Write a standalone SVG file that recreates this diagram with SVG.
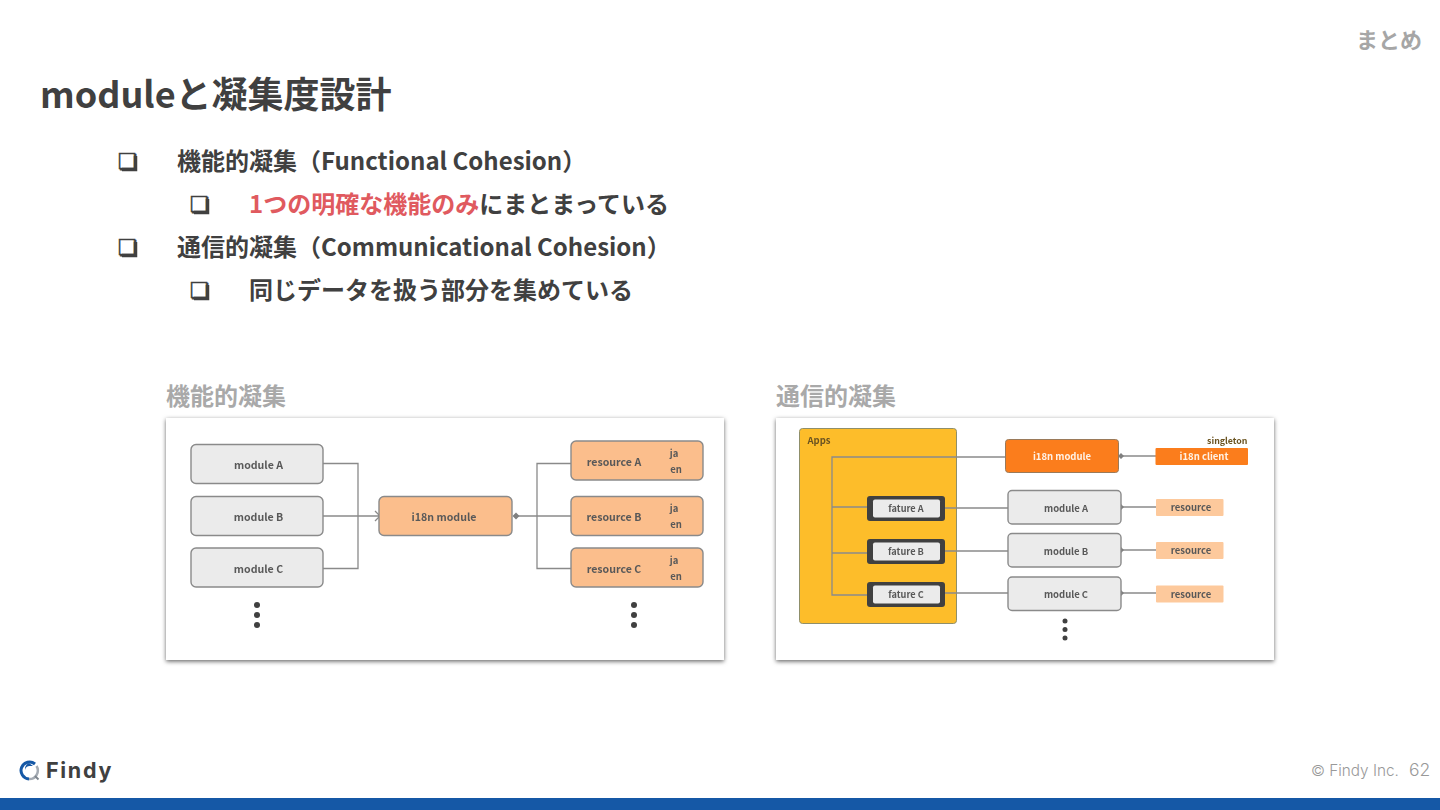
<svg xmlns="http://www.w3.org/2000/svg" width="1440" height="810" viewBox="0 0 1440 810">
<defs>
<filter id="soft" x="-5%" y="-5%" width="110%" height="110%"><feGaussianBlur stdDeviation="0.5"/></filter>
<filter id="shadow" x="-5%" y="-5%" width="110%" height="110%"><feDropShadow dx="0" dy="1.500" stdDeviation="2.200" flood-color="#000" flood-opacity="0.6"/></filter>
<path id="bs" d="M135.500 156V169.500H122" fill="none" stroke="#404040" stroke-width="3.500"/>
</defs>
<style>
text{font-family:"Noto Sans CJK JP","Noto Sans",sans-serif;font-weight:700;fill:#404040}
.bl{font-size:24px}
.gl{font-family:"DejaVu Sans",sans-serif;font-size:22px;font-weight:700;stroke:#404040;stroke-width:0.6px}
.cap{font-size:24px;fill:#a9a9a9}
.n{font-size:10.600px;text-anchor:middle;fill:#595959}
.g{fill:#ebebeb;stroke:#8a8a8a;stroke-width:1.400}
.o{fill:#fbbe8c;stroke:#8a8a8a;stroke-width:1.400}
.c{fill:none;stroke:#8a8a8a;stroke-width:1.300}
.d{fill:#404040}
.dm{fill:#808080}
.r{fill:#fdc99c}
.rt{font-size:9.500px;text-anchor:middle;fill:#595959}
.ft{font-size:9.200px;text-anchor:middle;fill:#595959}
</style>
<rect width="1440" height="810" fill="#fff"/>
<text x="1356" y="48" style="font-size:22px;fill:#a6a6a6">まとめ</text>
<text x="40" y="108" style="font-size:36px">moduleと凝集度設計</text>

<g id="bullets">
<text class="gl" x="118" y="169">❏</text><use href="#bs"/>
<text class="bl" x="177" y="170">機能的凝集（Functional Cohesion）</text>
<text class="gl" x="190" y="212">❏</text><use href="#bs" x="72" y="43"/>
<text class="bl" x="249" y="213"><tspan style="fill:#e05a5f">1つの明確な機能のみ</tspan>にまとまっている</text>
<text class="gl" x="118" y="255">❏</text><use href="#bs" y="86"/>
<text class="bl" x="177" y="256">通信的凝集（Communicational Cohesion）</text>
<text class="gl" x="190" y="298">❏</text><use href="#bs" x="72" y="129"/>
<text class="bl" x="249" y="299">同じデータを扱う部分を集めている</text>
</g>

<text class="cap" x="166" y="405">機能的凝集</text>
<text class="cap" x="776" y="405">通信的凝集</text>

<rect x="166" y="418" width="558" height="242" fill="#fff" filter="url(#shadow)"/>
<rect x="776" y="418" width="498" height="242" fill="#fff" filter="url(#shadow)"/>

<g filter="url(#soft)">
<g id="connectors-left">
<path class="c" d="M323 463.500H358V568.500H323M323 516H379M375 511l5 5-5 5"/>
<path class="c" d="M516 516H571M571 463.500H537V568.500H571"/>
<path class="dm" d="M516 512.500l3.500 3.500-3.500 3.500-3.500-3.500z"/>
</g>
<g id="moduleA"><rect class="g" x="191" y="444.500" width="132" height="39" rx="5"/><text class="n" x="258.500" y="468.500">module A</text></g>
<g id="moduleB"><rect class="g" x="191" y="496.500" width="132" height="39" rx="5"/><text class="n" x="258.500" y="520.500">module B</text></g>
<g id="moduleC"><rect class="g" x="191" y="548" width="132" height="39" rx="5"/><text class="n" x="258.500" y="572.500">module C</text></g>
<g id="i18n"><rect class="o" x="379" y="496.500" width="133" height="39" rx="5"/><text class="n" x="444" y="520.500">i18n module</text></g>
<g id="resourceA"><rect class="o" x="571" y="441" width="132" height="39" rx="5"/><text class="n" x="614" y="466">resource A</text><text class="rt" x="674" y="457">ja</text><text class="rt" x="676" y="473">en</text></g>
<g id="resourceB"><rect class="o" x="571" y="496.500" width="132" height="39" rx="5"/><text class="n" x="614" y="521">resource B</text><text class="rt" x="674" y="512">ja</text><text class="rt" x="676" y="528">en</text></g>
<g id="resourceC"><rect class="o" x="571" y="548" width="132" height="39" rx="5"/><text class="n" x="614" y="573">resource C</text><text class="rt" x="674" y="564">ja</text><text class="rt" x="676" y="580">en</text></g>
<g id="dotsL"><circle class="d" cx="257" cy="605" r="3"/><circle class="d" cx="257" cy="615" r="3"/><circle class="d" cx="257" cy="625" r="3"/></g>
<g id="dotsR"><circle class="d" cx="634" cy="605" r="3"/><circle class="d" cx="634" cy="615" r="3"/><circle class="d" cx="634" cy="625" r="3"/></g>

<g id="apps"><rect x="799.500" y="428.500" width="157" height="195" rx="3" fill="#fdbd2c" stroke="#8f8f6a" stroke-width="1"/><text x="807.500" y="444" style="font-size:9.500px;fill:#6b5320">Apps</text></g>
<g id="connectors-right">
<path class="c" d="M1006 457H832V595H867M832 507H867M832 553H867"/>
<path class="c" d="M945 508H1008M945 551H1008M945 593H1008"/>
<path class="c" d="M1121 456H1156M1121 507H1156M1121 550H1156M1121 593H1156"/>
<path class="dm" d="M1121 453l3 3-3 3-3-3zM1121 504l3 3-3 3-3-3zM1121 547l3 3-3 3-3-3zM1121 590l3 3-3 3-3-3z"/>
</g>
<g id="fatureA"><rect x="867" y="496" width="78" height="25" rx="3" fill="#404040"/><rect x="873" y="499.500" width="67" height="18" rx="2" fill="#ebebeb"/><text class="ft" x="906" y="512">fature A</text></g>
<g id="fatureB"><rect x="867" y="539" width="78" height="25" rx="3" fill="#404040"/><rect x="873" y="542.500" width="67" height="18" rx="2" fill="#ebebeb"/><text class="ft" x="906" y="555">fature B</text></g>
<g id="fatureC"><rect x="867" y="582" width="78" height="25" rx="3" fill="#404040"/><rect x="873" y="585.500" width="67" height="18" rx="2" fill="#ebebeb"/><text class="ft" x="906" y="598">fature C</text></g>
<g id="i18nR"><rect x="1005.500" y="439.500" width="113" height="33" rx="3" fill="#fb7d1d" stroke="#9a7a5a" stroke-width="1"/><text class="rt" x="1062" y="460" style="fill:#fff2e6">i18n module</text></g>
<g id="client"><rect x="1155.500" y="448" width="92.500" height="17" rx="1" fill="#fb7d1d"/><text class="rt" x="1204" y="460" style="fill:#fff2e6">i18n client</text></g>
<text x="1247.500" y="444" style="font-size:8.800px;text-anchor:end;fill:#6b5320">singleton</text>
<g id="moduleRA"><rect class="g" x="1008" y="490.500" width="113" height="33.500" rx="4"/><text class="rt" x="1066" y="511.500">module A</text></g>
<g id="moduleRB"><rect class="g" x="1008" y="533.500" width="113" height="33.500" rx="4"/><text class="rt" x="1066" y="554.500">module B</text></g>
<g id="moduleRC"><rect class="g" x="1008" y="577" width="113" height="33.500" rx="4"/><text class="rt" x="1066" y="598">module C</text></g>
<g id="resR1"><rect class="r" x="1156" y="499" width="67.500" height="17" rx="1"/><text class="rt" x="1191" y="510.500">resource</text></g>
<g id="resR2"><rect class="r" x="1156" y="542" width="67.500" height="17" rx="1"/><text class="rt" x="1191" y="553.500">resource</text></g>
<g id="resR3"><rect class="r" x="1156" y="585.500" width="67.500" height="17" rx="1"/><text class="rt" x="1191" y="597.500">resource</text></g>
<g id="dotsRR"><circle class="d" cx="1065" cy="621" r="2.500"/><circle class="d" cx="1065" cy="629.500" r="2.500"/><circle class="d" cx="1065" cy="638" r="2.500"/></g>
</g>

<g id="logo">
<path d="M36.500 766a8.500 8.500 0 0 1-7.500 13" fill="none" stroke="#a4abb3" stroke-width="2.500"/>
<path d="M29 779a8.500 8.500 0 1 1 6-15" fill="none" stroke="#1558a6" stroke-width="3"/>
<path d="M29 763a7 7 0 0 0-4 7 5 5 0 0 1 5-4h3z" fill="#1558a6"/>
<path d="M35 776l3.500 3.500" stroke="#7f878f" stroke-width="2"/>
<text x="46" y="778" style="font-family:Inter,sans-serif;font-size:21.500px;letter-spacing:1.700px">Findy</text>
</g>
<text x="1311" y="776" style="font-family:Inter,sans-serif;font-weight:300;font-size:15.300px;fill:#999">© Findy Inc.</text>
<text x="1409" y="776" style="font-family:Inter,sans-serif;font-weight:300;font-size:17.500px;fill:#999">62</text>
<rect y="798" width="1440" height="12" fill="#1558a6"/>
</svg>
